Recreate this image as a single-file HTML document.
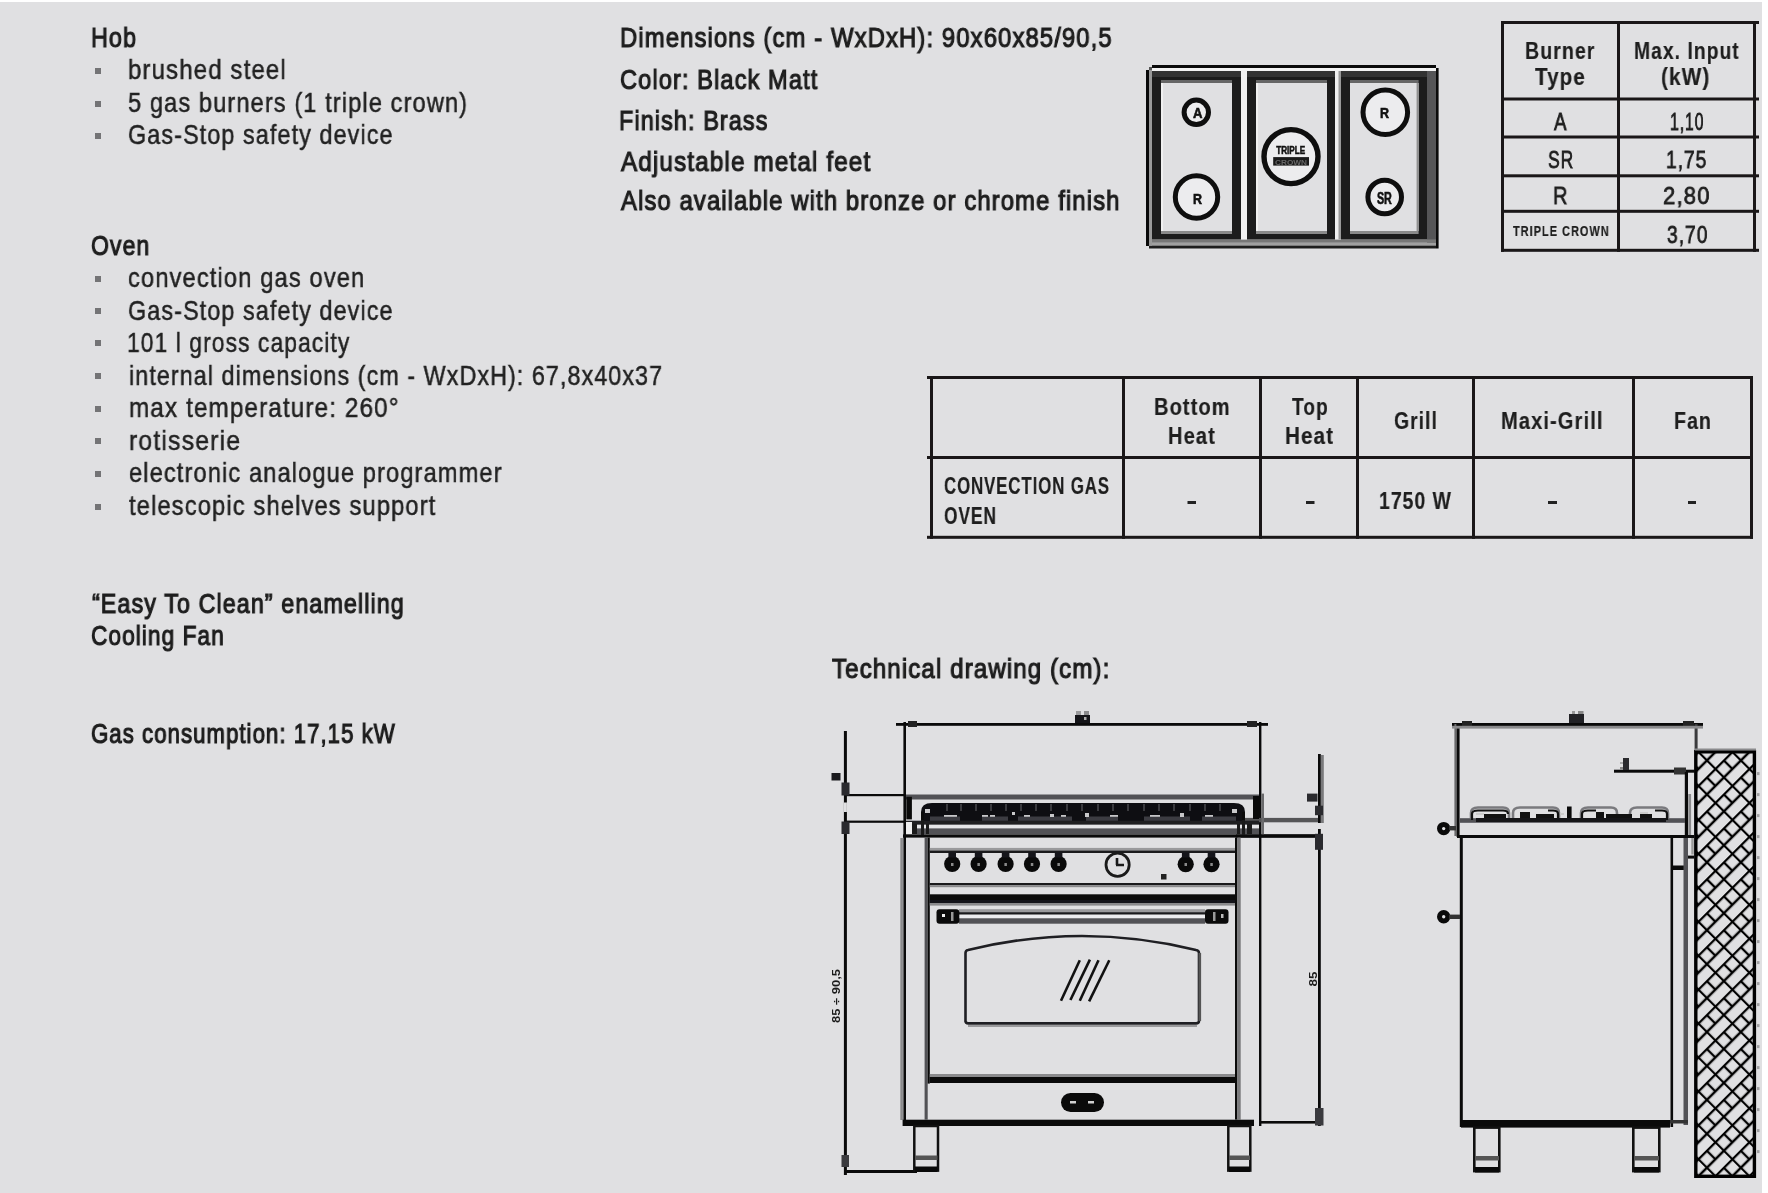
<!DOCTYPE html>
<html><head><meta charset="utf-8"><title>Spec sheet</title>
<style>
html,body{margin:0;padding:0;}
body{width:1768px;height:1193px;background:#ffffff;position:relative;overflow:hidden;font-family:"Liberation Sans",sans-serif;}
#bg{position:absolute;left:0;top:2px;width:1762px;height:1191px;background:#e0e0e2;}
.t{position:absolute;white-space:nowrap;line-height:1;transform-origin:0 0;color:#222;-webkit-text-stroke:0.5px #222;will-change:transform;letter-spacing:1.3px;}
.hd{-webkit-text-stroke:1.15px #1e1e1e;color:#1e1e1e;}
.md{-webkit-text-stroke:0.8px #1e1e1e;color:#1e1e1e;}
.bd{font-weight:bold;-webkit-text-stroke:0.2px #1e1e1e;color:#1e1e1e;}

.bl{position:absolute;left:95px;width:6px;height:6px;background:#747476;}
svg{position:absolute;left:0;top:0;}
</style></head><body>
<div id="bg"></div>

<div class="t hd" style="left:90.73px;top:24.10px;font-size:28.0px;transform:scaleX(0.8327)">Hob</div>
<div class="t" style="left:128.14px;top:56.40px;font-size:28.0px;transform:scaleX(0.8586)">brushed steel</div>
<div class="t" style="left:128.16px;top:89.20px;font-size:28.0px;transform:scaleX(0.8436)">5 gas burners (1 triple crown)</div>
<div class="t" style="left:128.17px;top:121.40px;font-size:28.0px;transform:scaleX(0.8349)">Gas-Stop safety device</div>
<div class="t hd" style="left:90.78px;top:231.60px;font-size:28.0px;transform:scaleX(0.8217)">Oven</div>
<div class="t" style="left:128.15px;top:264.00px;font-size:28.0px;transform:scaleX(0.8478)">convection gas oven</div>
<div class="t" style="left:128.17px;top:296.50px;font-size:28.0px;transform:scaleX(0.8349)">Gas-Stop safety device</div>
<div class="t" style="left:127.37px;top:328.70px;font-size:28.0px;transform:scaleX(0.8167)">101 l gross capacity</div>
<div class="t" style="left:128.57px;top:361.80px;font-size:28.0px;transform:scaleX(0.8316)">internal dimensions (cm - WxDxH): 67,8x40x37</div>
<div class="t" style="left:128.53px;top:394.40px;font-size:28.0px;transform:scaleX(0.8660)">max temperature: 260°</div>
<div class="t" style="left:128.51px;top:426.60px;font-size:28.0px;transform:scaleX(0.8862)">rotisserie</div>
<div class="t" style="left:128.55px;top:459.30px;font-size:28.0px;transform:scaleX(0.8452)">electronic analogue programmer</div>
<div class="t" style="left:129.40px;top:491.90px;font-size:28.0px;transform:scaleX(0.8488)">telescopic shelves support</div>
<div class="t hd" style="left:92.40px;top:589.70px;font-size:28.0px;transform:scaleX(0.8327)">“Easy To Clean” enamelling</div>
<div class="t hd" style="left:90.59px;top:622.40px;font-size:28.0px;transform:scaleX(0.8093)">Cooling Fan</div>
<div class="t hd" style="left:90.61px;top:719.70px;font-size:28.0px;transform:scaleX(0.7932)">Gas consumption: 17,15 kW</div>
<div class="t hd" style="left:620.00px;top:24.20px;font-size:28.0px;transform:scaleX(0.8519)">Dimensions (cm - WxDxH): 90x60x85/90,5</div>
<div class="t hd" style="left:620.16px;top:65.70px;font-size:28.0px;transform:scaleX(0.8433)">Color: Black Matt</div>
<div class="t hd" style="left:619.33px;top:106.80px;font-size:28.0px;transform:scaleX(0.8366)">Finish: Brass</div>
<div class="t hd" style="left:621.00px;top:147.90px;font-size:28.0px;transform:scaleX(0.8667)">Adjustable metal feet</div>
<div class="t hd" style="left:621.00px;top:187.30px;font-size:28.0px;transform:scaleX(0.8515)">Also available with bronze or chrome finish</div>
<div class="t hd" style="left:831.80px;top:654.60px;font-size:28.0px;transform:scaleX(0.8592)">Technical drawing (cm):</div>
<div class="t bd" style="left:1524.68px;top:39.00px;font-size:24.0px;transform:scaleX(0.8155)">Burner</div>
<div class="t bd" style="left:1534.70px;top:65.10px;font-size:24.0px;transform:scaleX(0.8561)">Type</div>
<div class="t bd" style="left:1633.60px;top:39.00px;font-size:24.0px;transform:scaleX(0.8031)">Max. Input</div>
<div class="t bd" style="left:1661.14px;top:65.10px;font-size:24.0px;transform:scaleX(0.8630)">(kW)</div>
<div class="t md" style="left:1554.00px;top:109.50px;font-size:24.0px;transform:scaleX(0.7812)">A</div>
<div class="t md" style="left:1669.64px;top:109.50px;font-size:24.0px;transform:scaleX(0.6633)">1,10</div>
<div class="t md" style="left:1547.97px;top:148.30px;font-size:24.0px;transform:scaleX(0.7303)">SR</div>
<div class="t md" style="left:1666.20px;top:148.30px;font-size:24.0px;transform:scaleX(0.7959)">1,75</div>
<div class="t md" style="left:1553.17px;top:183.90px;font-size:24.0px;transform:scaleX(0.8333)">R</div>
<div class="t md" style="left:1663.08px;top:183.90px;font-size:24.0px;transform:scaleX(0.9184)">2,80</div>
<div class="t md" style="left:1667.00px;top:222.70px;font-size:24.0px;transform:scaleX(0.8000)">3,70</div>
<div class="t bd" style="left:1513.00px;top:224.40px;font-size:14px;transform:scaleX(0.7820)">TRIPLE CROWN</div>
<div class="t bd" style="left:1154.37px;top:394.80px;font-size:24.0px;transform:scaleX(0.8341)">Bottom</div>
<div class="t bd" style="left:1168.06px;top:424.20px;font-size:24.0px;transform:scaleX(0.8364)">Heat</div>
<div class="t bd" style="left:1292.00px;top:394.80px;font-size:24.0px;transform:scaleX(0.7955)">Top</div>
<div class="t bd" style="left:1284.54px;top:424.20px;font-size:24.0px;transform:scaleX(0.8582)">Heat</div>
<div class="t bd" style="left:1393.69px;top:408.80px;font-size:24.0px;transform:scaleX(0.8059)">Grill</div>
<div class="t bd" style="left:1500.86px;top:408.80px;font-size:24.0px;transform:scaleX(0.8378)">Maxi-Grill</div>
<div class="t bd" style="left:1674.48px;top:408.80px;font-size:24.0px;transform:scaleX(0.8163)">Fan</div>
<div class="t bd" style="left:944.00px;top:474.20px;font-size:24.0px;transform:scaleX(0.7004)">CONVECTION GAS</div>
<div class="t bd" style="left:943.98px;top:503.60px;font-size:24.0px;transform:scaleX(0.7232)">OVEN</div>
<div class="t bd" style="left:1379.19px;top:489.20px;font-size:24.0px;transform:scaleX(0.8057)">1750 W</div>
<div class="bl" style="top:68.0px"></div>
<div class="bl" style="top:100.8px"></div>
<div class="bl" style="top:133.0px"></div>
<div class="bl" style="top:275.6px"></div>
<div class="bl" style="top:308.1px"></div>
<div class="bl" style="top:340.3px"></div>
<div class="bl" style="top:373.4px"></div>
<div class="bl" style="top:406.0px"></div>
<div class="bl" style="top:438.2px"></div>
<div class="bl" style="top:470.9px"></div>
<div class="bl" style="top:503.5px"></div>
<svg width="1768" height="1193" viewBox="0 0 1768 1193">
<defs>
<pattern id="hatch" patternUnits="userSpaceOnUse" width="24" height="24" x="0" y="0" patternTransform="translate(1697,752) rotate(-45)">
<path d="M0,1 H24 M0,13 H24 M1,0 V24 M13,1 V13" stroke="#000" stroke-width="2.3" fill="none"/>
</pattern>
</defs>
<!-- ============ Burner table ============ -->
<g fill="#1a1718">
<rect x="1501" y="21" width="258" height="3"/>
<rect x="1501" y="97.5" width="258" height="3"/>
<rect x="1501" y="135.5" width="258" height="3"/>
<rect x="1501" y="174.3" width="258" height="3"/>
<rect x="1501" y="209.8" width="258" height="3"/>
<rect x="1501" y="248.8" width="258" height="3"/>
<rect x="1501" y="21" width="3" height="230.8"/>
<rect x="1617" y="21" width="3" height="230.8"/>
<rect x="1753" y="21" width="3" height="230.8"/>
</g>
<!-- ============ Oven table ============ -->
<g fill="#1a1718">
<rect x="927" y="376" width="826" height="3"/>
<rect x="927" y="456" width="826" height="3"/>
<rect x="927" y="535.8" width="826" height="3"/>
<rect x="930" y="376" width="3" height="162.8"/>
<rect x="1122" y="376" width="3" height="162.8"/>
<rect x="1259" y="376" width="3" height="162.8"/>
<rect x="1356" y="376" width="3" height="162.8"/>
<rect x="1472" y="376" width="3" height="162.8"/>
<rect x="1632" y="376" width="3" height="162.8"/>
<rect x="1750" y="376" width="3" height="162.8"/>
</g>
<!-- dashes in oven table -->
<g fill="#222">
<rect x="1187.5" y="501" width="8.5" height="3"/>
<rect x="1306" y="501" width="8.5" height="3"/>
<rect x="1548" y="501" width="9" height="3"/>
<rect x="1688" y="501" width="8" height="3"/>
</g>
<!-- ============ Hob diagram ============ -->
<g>
<rect x="1152" y="68" width="284" height="3" fill="#f2f2f2"/>
<rect x="1149" y="70" width="3" height="175" fill="#9a9a9a"/>
<rect x="1427" y="71" width="9" height="174" fill="#555557"/>
<rect x="1152" y="239.4" width="284" height="3.4" fill="#777"/>
<rect x="1152" y="242.8" width="284" height="2.8" fill="#a0a0a0"/>
<rect x="1152" y="65" width="284" height="3" fill="#0a0a0a"/>
<rect x="1146" y="70" width="3" height="176" fill="#0a0a0a"/>
<rect x="1436" y="68" width="2.6" height="180.5" fill="#0a0a0a"/>
<rect x="1149" y="245.6" width="287" height="2.9" fill="#1e1e1e"/>
<rect x="1149" y="67" width="3" height="3" fill="#555"/>
<!-- gaps -->
<rect x="1241" y="71" width="6" height="168.4" fill="#f0f0f0"/>
<rect x="1335" y="71" width="6" height="168.4" fill="#f0f0f0"/>
<rect x="1338.5" y="71" width="2.5" height="168.4" fill="#9a9a9a"/>
<!-- cells -->
<rect x="1152" y="71" width="89" height="168.4" fill="#1c1c1c"/>
<rect x="1247" y="71" width="88" height="168.4" fill="#1c1c1c"/>
<rect x="1341" y="71" width="86" height="168.4" fill="#1c1c1c"/>
<rect x="1152" y="71" width="89" height="6" fill="#333"/>
<rect x="1247" y="71" width="88" height="6" fill="#333"/>
<rect x="1341" y="71" width="86" height="6" fill="#333"/>
<rect x="1161" y="80" width="71" height="3" fill="#666"/>
<rect x="1256" y="80" width="71" height="3" fill="#666"/>
<rect x="1350" y="80" width="68.6" height="3" fill="#666"/>
<rect x="1161" y="231" width="71" height="3" fill="#8a8a8a"/>
<rect x="1256" y="231" width="71" height="3" fill="#8a8a8a"/>
<rect x="1350" y="231" width="68.6" height="3" fill="#8a8a8a"/>
<rect x="1161" y="83" width="71" height="148" fill="#e0e0e2"/>
<rect x="1256" y="83" width="71" height="148" fill="#e0e0e2"/>
<rect x="1350" y="83" width="68.6" height="148" fill="#e0e0e2"/>
<rect x="1161" y="83" width="2" height="148" fill="#f0f0f0"/>
<rect x="1256" y="83" width="2" height="148" fill="#f0f0f0"/>
<rect x="1416.6" y="83" width="2" height="148" fill="#909090"/>
<!-- burners -->
<g fill="#ececee">
<circle cx="1196.3" cy="112.3" r="10"/>
<circle cx="1196.5" cy="197" r="19"/>
<circle cx="1291" cy="156.6" r="24.5"/>
<circle cx="1385.3" cy="112.3" r="20"/>
<circle cx="1384.7" cy="197" r="14.5"/>
</g>
<g fill="none" stroke="#0e0e0e">
<circle cx="1196.3" cy="112.3" r="12.2" stroke-width="5"/>
<circle cx="1196.5" cy="197" r="21.2" stroke-width="5"/>
<circle cx="1291" cy="156.6" r="27" stroke-width="5.4"/>
<circle cx="1385.3" cy="112.3" r="22.3" stroke-width="5"/>
<circle cx="1384.7" cy="197" r="16.8" stroke-width="5"/>
</g>
<g font-family="Liberation Sans" font-weight="bold" fill="#111" text-anchor="middle" stroke="#111" stroke-width="0.6">
<text x="1197.8" y="118.4" font-size="15" textLength="9.5" lengthAdjust="spacingAndGlyphs">A</text>
<text x="1197.4" y="203.9" font-size="15" textLength="9" lengthAdjust="spacingAndGlyphs">R</text>
<text x="1384.6" y="118" font-size="15" textLength="9" lengthAdjust="spacingAndGlyphs">R</text>
<text x="1384.4" y="204.3" font-size="16" textLength="15" lengthAdjust="spacingAndGlyphs">SR</text>
<text x="1290.7" y="153.6" font-size="11.5" textLength="29" lengthAdjust="spacingAndGlyphs">TRIPLE</text>
</g>
<rect x="1273.2" y="157.1" width="35.8" height="8.5" fill="#1a1a1a"/>
<text x="1291" y="164.5" font-family="Liberation Sans" font-weight="bold" font-size="8" fill="#666" text-anchor="middle" textLength="32" lengthAdjust="spacingAndGlyphs">CROWN</text>
</g>
<!-- ============ Technical drawing: front view ============ -->
<g fill="#0a0a0a">
<!-- top dimension -->
<rect x="896" y="723" width="372" height="2.8"/>
<rect x="908" y="721" width="9" height="6" fill="#222"/>
<rect x="1247" y="721" width="10" height="6" fill="#222"/>
<!-- body verticals -->
<rect x="903.4" y="722" width="2.6" height="404"/>
<rect x="1259" y="722" width="2.4" height="404"/>
<rect x="900.3" y="838" width="2.6" height="282" fill="#8a8a8c"/>
<!-- left dimension -->
<rect x="843.9" y="731" width="3" height="444"/>
<rect x="845" y="794" width="59" height="2.2"/>
<rect x="845" y="820.6" width="59" height="2.2"/>
<rect x="845" y="1170" width="72" height="3"/>
<!-- right dimension -->
<rect x="1318" y="754" width="2.8" height="372"/>
<rect x="1245" y="817.9" width="73" height="4.4" fill="#555557"/>
<rect x="1236" y="834.4" width="84" height="3.2"/>
<rect x="1261" y="1121" width="59" height="2.6"/>
<!-- backsplash -->
<rect x="906" y="794.5" width="353" height="5" fill="#525256"/>
<rect x="906.3" y="796.8" width="5.6" height="22.6"/>
<rect x="1253" y="796" width="6" height="23"/>
<!-- grates -->
<path d="M921,821 L921,812 Q921,803 932,803 L1234,803 Q1245,803 1245,812 L1245,821 Z" fill="#0e0e12"/>
<rect x="930" y="816.5" width="306" height="4.5" fill="#3c3c42"/>
<g fill="#0e0e12">
<rect x="960" y="816" width="22" height="5"/><rect x="1008" y="816" width="10" height="5"/><rect x="1072" y="816" width="14" height="5"/>
<rect x="1118" y="816" width="26" height="5"/><rect x="1190" y="816" width="12" height="5"/>
</g>
<g fill="#c8c8ca">
<rect x="925" y="809" width="5" height="4"/>
<rect x="944" y="815" width="13" height="1.8"/>
<rect x="982" y="815" width="6" height="1.8"/>
<rect x="990" y="815" width="5" height="1.8"/>
<rect x="1012" y="812" width="3" height="3"/>
<rect x="1024" y="815" width="6" height="1.8"/>
<rect x="1050" y="814" width="4" height="3"/>
<rect x="1061" y="815" width="5" height="1.8"/>
<rect x="1085" y="813" width="4" height="4"/>
<rect x="1110" y="815" width="8" height="1.8"/>
<rect x="1150" y="815" width="10" height="1.8"/>
<rect x="1180" y="813" width="4" height="4"/>
<rect x="1205" y="815" width="8" height="1.8"/>
<rect x="1232" y="809" width="5" height="4"/>
</g>
<g fill="#3a3a3e">
<rect x="946" y="804" width="2" height="7"/><rect x="960" y="804" width="2" height="7"/><rect x="975" y="804" width="2" height="7"/><rect x="990" y="804" width="2" height="7"/>
<rect x="1005" y="804" width="2" height="7"/><rect x="1020" y="804" width="2" height="7"/><rect x="1035" y="804" width="2" height="7"/><rect x="1050" y="804" width="2" height="7"/>
<rect x="1066" y="804" width="2" height="7"/><rect x="1081" y="804" width="2" height="7"/><rect x="1097" y="804" width="2" height="7"/><rect x="1112" y="804" width="2" height="7"/>
<rect x="1127" y="804" width="2" height="7"/><rect x="1143" y="804" width="2" height="7"/><rect x="1158" y="804" width="2" height="7"/><rect x="1173" y="804" width="2" height="7"/>
<rect x="1189" y="804" width="2" height="7"/><rect x="1204" y="804" width="2" height="7"/><rect x="1219" y="804" width="2" height="7"/>
</g>
<rect x="921" y="812" width="3" height="24" fill="#0a0a0a"/>
<rect x="1242" y="812" width="3" height="24" fill="#0a0a0a"/>
<rect x="906" y="820.7" width="353" height="4.1" fill="#1f1f21"/>
<rect x="906" y="824.8" width="353" height="3.6" fill="#e6e6e8"/>
<rect x="906" y="828.4" width="353" height="5.9" fill="#525256"/>
<rect x="903" y="834.4" width="420" height="3.2"/>
<rect x="906" y="822" width="6" height="12" fill="#eeeeee"/>
<rect x="912" y="824" width="5" height="10" fill="#1a1a1a"/>
<rect x="921" y="820" width="3" height="15" fill="#1a1a1a"/>
<rect x="926" y="824" width="3" height="10" fill="#1a1a1a"/>
<rect x="1237" y="824" width="3" height="10" fill="#1a1a1a"/>
<rect x="1242" y="820" width="3" height="15" fill="#1a1a1a"/>
<rect x="1247" y="824" width="5" height="10" fill="#1a1a1a"/>
<!-- control panel / door frame verticals -->
<rect x="924.6" y="837.6" width="3.1" height="282" fill="#525256"/>
<rect x="927.7" y="837.6" width="2.1" height="246"/>
<rect x="1235" y="837.6" width="2.4" height="282"/>
<rect x="1237.4" y="837.6" width="3.3" height="282" fill="#7a7a7c"/>
<rect x="929.8" y="847.9" width="305.2" height="2.6" fill="#9a9a9c"/>
<rect x="929.8" y="850.5" width="305.2" height="2.5" fill="#1a1a1c"/>
<rect x="929.8" y="883" width="305.2" height="2.2" fill="#1a1a1c"/>
<rect x="929.8" y="885.2" width="305.2" height="2" fill="#8a8a8c"/>
<!-- knobs -->
<g fill="#0a0a0a">
<circle cx="952.2" cy="864" r="8.1"/><rect x="948.4" y="852.5" width="7.6" height="5" fill="#15151a"/>
<circle cx="978.6" cy="864" r="8.1"/><rect x="974.8" y="852.5" width="7.6" height="5" fill="#15151a"/>
<circle cx="1005.6" cy="864" r="8.1"/><rect x="1001.8" y="852.5" width="7.6" height="5" fill="#15151a"/>
<circle cx="1032" cy="864" r="8.1"/><rect x="1028.2" y="852.5" width="7.6" height="5" fill="#15151a"/>
<circle cx="1058.6" cy="864" r="8.1"/><rect x="1054.8" y="852.5" width="7.6" height="5" fill="#15151a"/>
<circle cx="1185.7" cy="864.2" r="8.1"/><rect x="1181.9" y="852.5" width="7.6" height="5" fill="#15151a"/>
<circle cx="1211.5" cy="864.2" r="8.1"/><rect x="1207.7" y="852.5" width="7.6" height="5" fill="#15151a"/>
</g>
<g fill="#8a8a8a">
<rect x="951" y="863" width="2.5" height="3"/><rect x="977.4" y="863" width="2.5" height="3"/><rect x="1004.4" y="863" width="2.5" height="3"/>
<rect x="1030.8" y="863" width="2.5" height="3"/><rect x="1057.4" y="863" width="2.5" height="3"/><rect x="1184.5" y="863" width="2.5" height="3"/><rect x="1210.3" y="863" width="2.5" height="3"/>
</g>
<circle cx="1117.6" cy="864.8" r="11.6" fill="none" stroke="#1a1a1a" stroke-width="2.8"/>
<path d="M1117,865 L1117,858 M1116,865 L1124,865" stroke="#1a1a1a" stroke-width="2.6" fill="none"/>
<rect x="1161" y="874" width="5.5" height="5.5" fill="#222"/>
<!-- oven door -->
<rect x="929.8" y="894.3" width="305.2" height="5.7"/>
<rect x="929.8" y="900" width="305.2" height="3" fill="#14141a"/>
<rect x="929.8" y="903" width="305.2" height="2.6" fill="#8a8a8c"/>
<!-- handle -->
<rect x="959" y="909.2" width="246" height="3" fill="#9a9a9c"/>
<rect x="959" y="912.2" width="246" height="2.5" fill="#1a1a1c"/>
<rect x="959" y="914.7" width="246" height="3.6" fill="#ececee"/>
<rect x="959" y="918.3" width="246" height="5.4" fill="#525256"/>
<rect x="936.5" y="909.2" width="22.8" height="14.5" rx="3" fill="#0a0a0a"/>
<rect x="1205" y="909.2" width="23.5" height="14.5" rx="3" fill="#0a0a0a"/>
<rect x="942" y="914" width="3" height="3" fill="#eee"/>
<rect x="951" y="912" width="2.5" height="9" fill="#999"/>
<rect x="1213" y="912" width="2.5" height="9" fill="#999"/>
<rect x="1221" y="914" width="2.5" height="4" fill="#bbb"/>
<!-- window -->
<path d="M965.5,1022 L965.5,953 Q965.5,950.5 968,950 Q1082,922 1196,950 Q1199,950.5 1199,953 L1199,1021 Q1199,1023.4 1196,1023.4 L968.5,1023.4 Q965.5,1023.4 965.5,1021 Z" fill="none" stroke="#1f1f23" stroke-width="2.6"/>
<rect x="968" y="1025" width="229" height="2" fill="#9a9a9c"/>
<rect x="1198.5" y="953" width="2.6" height="68" fill="#555"/>
<g stroke="#111" stroke-width="2.6" fill="none">
<path d="M1061,1000.7 L1079.8,960.3"/>
<path d="M1070.4,1000 L1089.9,959.6"/>
<path d="M1079.8,1000.7 L1098.5,960.3"/>
<path d="M1089.1,1001.4 L1109.3,960.3"/>
</g>
<!-- door bottom -->
<rect x="929.8" y="1074" width="305.2" height="3" fill="#8a8a8c"/>
<rect x="929.8" y="1077" width="305.2" height="6"/>
<!-- drawer handle -->
<rect x="1061" y="1093" width="43" height="19" rx="9.5" fill="#0a0a0a"/>
<rect x="1070" y="1101" width="6" height="2.5" fill="#d0d0d0"/>
<rect x="1088" y="1101" width="6" height="2.5" fill="#d0d0d0"/>
<!-- plinth -->
<rect x="902.6" y="1119.7" width="351.4" height="6.3"/>
<!-- legs -->
<g fill="none" stroke="#111" stroke-width="2.5">
<rect x="914.3" y="1126" width="23.7" height="44.6"/>
<rect x="1228.3" y="1126" width="22" height="44.6"/>
</g>
<rect x="915" y="1155.5" width="22.5" height="4.5" fill="#555"/>
<rect x="915" y="1166.5" width="22.5" height="5.5"/>
<rect x="1229" y="1155.5" width="21" height="4.5" fill="#555"/>
<rect x="1229" y="1166.5" width="21" height="5.5"/>
</g>
<!-- dimension labels front -->
<g fill="#141418">
<rect x="1075" y="715" width="15" height="8"/>
<rect x="1076" y="711" width="5" height="4" fill="#9a9a9c"/>
<rect x="1084" y="711" width="5" height="4" fill="#8a8a8c"/>
<rect x="1084" y="717" width="2.5" height="3" fill="#aaa"/>
<!-- left dim ticks and labels -->
<rect x="841.5" y="782.5" width="8" height="13" fill="#2a2a2e"/>
<rect x="841.5" y="821.5" width="8" height="12.5" fill="#2a2a2e"/>
<rect x="841.5" y="1155" width="7.5" height="12" fill="#3a3a3e"/>
<rect x="831.5" y="773" width="9" height="7.5" fill="#1a1a1e"/>
<rect x="843.9" y="802.5" width="3" height="9.5" fill="#e0e0e2"/>
<!-- right dim ticks and labels -->
<rect x="1321" y="755" width="2.8" height="68" fill="#7a7a7c"/>
<rect x="1261.4" y="793.6" width="2.6" height="40.6" fill="#6a6a6c"/>
<rect x="1307" y="793.6" width="10.5" height="8" fill="#2a2a2e"/>
<rect x="1315" y="805.7" width="8" height="9.5" fill="#2a2a2e"/>
<rect x="1315" y="833.8" width="8" height="16" fill="#2a2a2e"/>
<rect x="1315" y="1108" width="8.5" height="17.5" fill="#3a3a3e"/>
<rect x="1317.5" y="823" width="6" height="6" fill="#e0e0e2"/>
</g>
<g font-family="Liberation Sans" font-weight="bold" fill="#1a1a1a">
<text transform="translate(840,996) rotate(-90)" font-size="11" text-anchor="middle" textLength="54" lengthAdjust="spacingAndGlyphs">85 ÷ 90,5</text>
<text transform="translate(1317,979) rotate(-90)" font-size="10" text-anchor="middle" textLength="15" lengthAdjust="spacingAndGlyphs">85</text>
</g>
<!-- ============ Side view ============ -->
<g fill="#0a0a0a">
<rect x="1452" y="723" width="251" height="3"/>
<rect x="1462" y="721" width="10" height="6" fill="#222"/>
<rect x="1683" y="721" width="11" height="6" fill="#222"/>
<rect x="1454.4" y="724" width="2.2" height="112" fill="#6a6a6c"/>
<rect x="1456.6" y="724" width="3" height="113"/>
<rect x="1694.6" y="724" width="3" height="28" fill="#3a3a3c"/>
<!-- "3" dim -->
<rect x="1614" y="769.7" width="80.6" height="3"/>
<rect x="1674" y="767.5" width="12" height="7" fill="#333"/>
<rect x="1684.8" y="772" width="3.2" height="66"/>
<rect x="1688.3" y="794" width="2.8" height="41" fill="#8a8a8c"/>
<rect x="1691.3" y="838" width="2.4" height="16.5" fill="#999"/>
<rect x="1685" y="855.6" width="9" height="3"/>
<rect x="1673" y="865.5" width="11" height="4.5"/>
<!-- hob side -->
<rect x="1459.8" y="818.2" width="225.2" height="4.6" fill="#525256"/>
<g fill="none" stroke="#7a7a7e" stroke-width="2.6">
<path d="M1471,818 L1471,813 Q1471,807.5 1478,807.5 L1503,807.5 Q1509,807.5 1509,813 L1509,818"/>
<path d="M1513,818 L1513,813 Q1513,807.5 1520,807.5 L1553,807.5 Q1559,807.5 1559,813 L1559,818"/>
<path d="M1581,818 L1581,813 Q1581,807.5 1588,807.5 L1611,807.5 Q1617,807.5 1617,813 L1617,818"/>
<path d="M1630,818 L1630,813 Q1630,807.5 1637,807.5 L1662,807.5 Q1668,807.5 1668,813 L1668,818"/>
</g>
<g fill="none" stroke="#111" stroke-width="2.2">
<path d="M1472,820 L1472,814 Q1472,810.5 1478,810.5 L1503,810.5 Q1508,810.5 1508,814"/>
<path d="M1548,810.5 L1553,810.5 Q1558,810.5 1558,814 L1558,820"/>
<path d="M1582,820 L1582,814 Q1582,810.5 1588,810.5 L1596,810.5"/>
<path d="M1655,810.5 L1662,810.5 Q1667,810.5 1667,814 L1667,820"/>
</g>
<rect x="1567" y="806.5" width="4.6" height="13"/>
<rect x="1484" y="814" width="22" height="4" fill="#111"/>
<rect x="1520" y="812" width="10" height="8" fill="#111"/>
<rect x="1536" y="814" width="18" height="6" fill="#111"/>
<rect x="1596" y="812" width="8" height="8" fill="#111"/>
<rect x="1606" y="814" width="26" height="6" fill="#111"/>
<rect x="1640" y="814" width="12" height="6" fill="#111"/>
<rect x="1476" y="818" width="190" height="4" fill="#151518"/>
<rect x="1476" y="813" width="8" height="2" fill="#ccc"/><rect x="1560" y="813" width="4" height="2" fill="#ccc"/><rect x="1640" y="812" width="8" height="2" fill="#ccc"/>
<circle cx="1443.7" cy="828.6" r="4.2" fill="none" stroke="#0a0a0a" stroke-width="5"/>
<rect x="1449" y="826" width="7" height="4.4" fill="#333"/>
<rect x="1457" y="835" width="237" height="3"/>
<!-- body -->
<rect x="1459.8" y="838" width="3" height="289"/>
<rect x="1670.5" y="838" width="2.6" height="289"/>
<rect x="1683.5" y="838" width="4.5" height="287" fill="#525256"/>
<circle cx="1443.7" cy="916.8" r="4.2" fill="none" stroke="#0a0a0a" stroke-width="5"/>
<rect x="1449" y="914.6" width="11" height="4.4" fill="#333"/>
<rect x="1461" y="1120" width="209" height="7.6"/>
<rect x="1670" y="1120" width="18" height="3.5" fill="#333"/>
<g fill="none" stroke="#111" stroke-width="2.6">
<rect x="1474.3" y="1127.6" width="25" height="43.5"/>
<rect x="1633.3" y="1127.6" width="26" height="43.5"/>
</g>
<rect x="1475" y="1156" width="24" height="4.5" fill="#555"/>
<rect x="1475" y="1167" width="24" height="5.5"/>
<rect x="1634" y="1156" width="25" height="4.5" fill="#555"/>
<rect x="1634" y="1167" width="25" height="5.5"/>
<rect x="1569" y="714" width="15" height="9" fill="#222226"/>
<rect x="1572" y="711" width="3" height="3" fill="#999"/><rect x="1578" y="711" width="5.5" height="3" fill="#888"/>
<rect x="1452" y="725.8" width="251" height="2.8" fill="#8a8a8c"/>
<rect x="1623" y="758" width="6" height="12" fill="#2a2a2e"/><rect x="1620" y="762" width="3" height="2" fill="#aaa"/><rect x="1620" y="767" width="3" height="2.5" fill="#888"/>
<!-- wall -->
<rect x="1757" y="772.1" width="2.5" height="3" fill="#a0a0a2"/><rect x="1757" y="793.1" width="2.5" height="3" fill="#a0a0a2"/><rect x="1757" y="814.1" width="2.5" height="3" fill="#a0a0a2"/><rect x="1757" y="835.1" width="2.5" height="3" fill="#a0a0a2"/><rect x="1757" y="856.1" width="2.5" height="3" fill="#a0a0a2"/><rect x="1757" y="877.1" width="2.5" height="3" fill="#a0a0a2"/><rect x="1757" y="898.1" width="2.5" height="3" fill="#a0a0a2"/><rect x="1757" y="919.1" width="2.5" height="3" fill="#a0a0a2"/><rect x="1757" y="940.1" width="2.5" height="3" fill="#a0a0a2"/><rect x="1757" y="961.1" width="2.5" height="3" fill="#a0a0a2"/><rect x="1757" y="982.1" width="2.5" height="3" fill="#a0a0a2"/><rect x="1757" y="1003.1" width="2.5" height="3" fill="#a0a0a2"/><rect x="1757" y="1024.1" width="2.5" height="3" fill="#a0a0a2"/><rect x="1757" y="1045.1" width="2.5" height="3" fill="#a0a0a2"/><rect x="1757" y="1066.1" width="2.5" height="3" fill="#a0a0a2"/><rect x="1757" y="1087.1" width="2.5" height="3" fill="#a0a0a2"/><rect x="1757" y="1108.1" width="2.5" height="3" fill="#a0a0a2"/><rect x="1757" y="1129.1" width="2.5" height="3" fill="#a0a0a2"/><rect x="1757" y="1150.1" width="2.5" height="3" fill="#a0a0a2"/>
<rect x="1697" y="752.5" width="57" height="423.5" fill="url(#hatch)"/>
<rect x="1695.8" y="751.8" width="58.6" height="424.5" fill="none" stroke="#000" stroke-width="3.4"/>
<rect x="1695" y="748.5" width="61" height="2" fill="#8a8a8c"/>
</g>
<g font-family="Liberation Sans" font-weight="bold" fill="#1a1a1a">

</g>
</svg>

</body></html>
